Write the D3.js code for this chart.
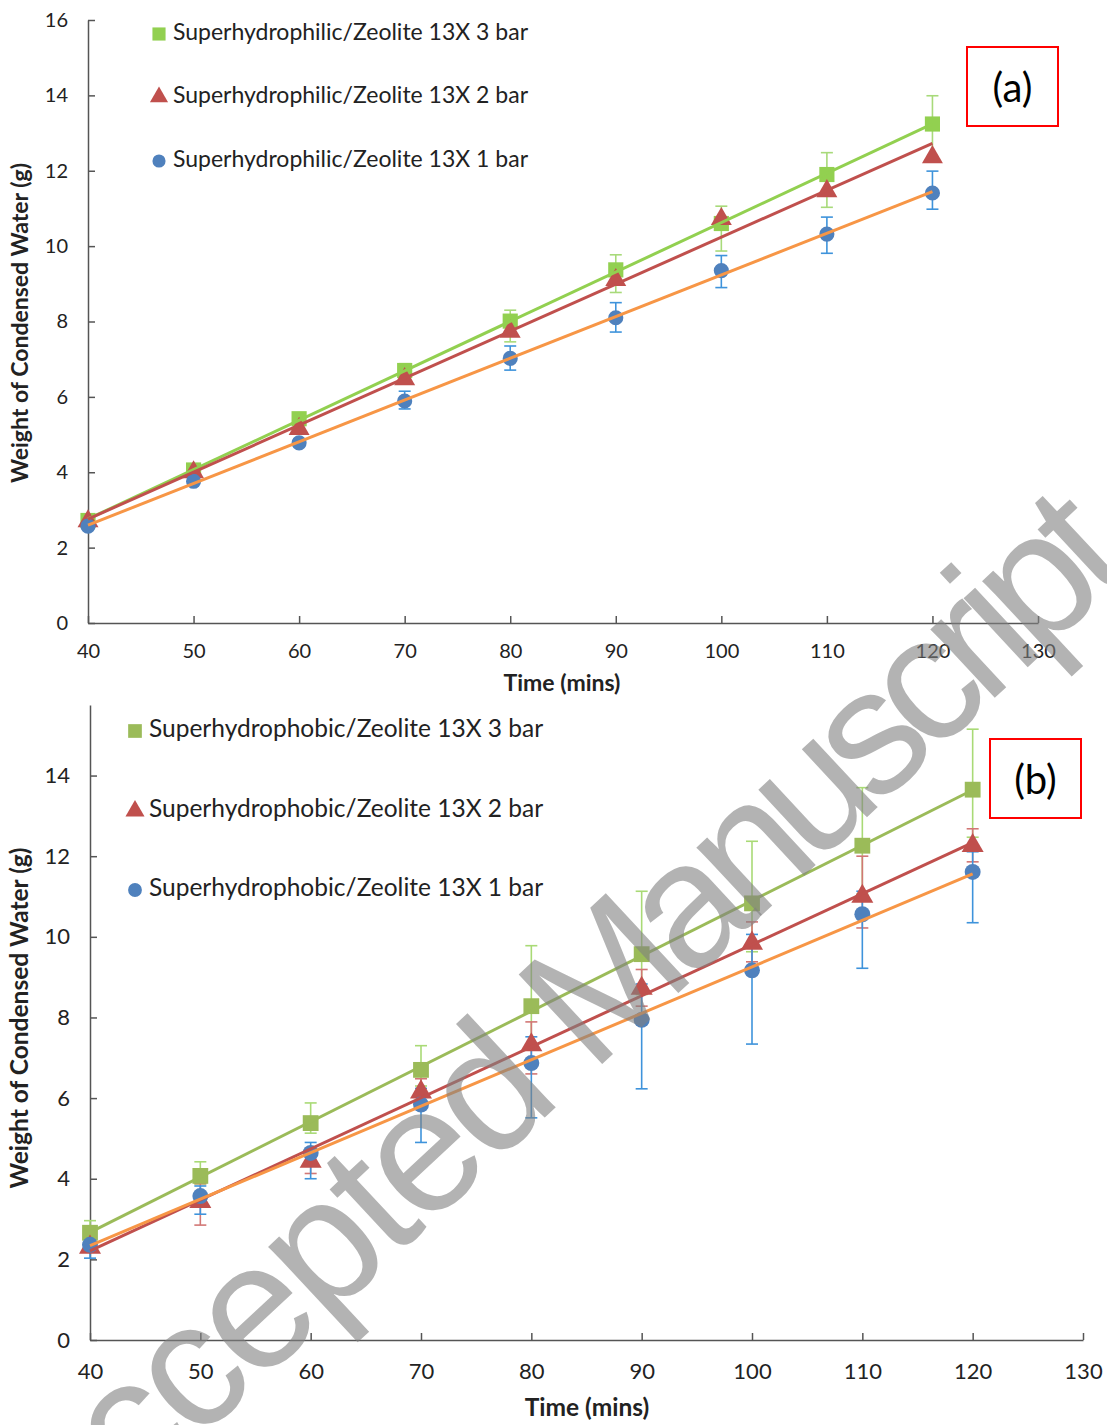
<!DOCTYPE html>
<html>
<head>
<meta charset="utf-8">
<script src="https://cdn.jsdelivr.net/npm/d3@7"></script>
<style>
  body { margin: 0; background: #fff; }
  text { font-family: "Lato", "Open Sans", sans-serif; fill: #222; }
  .axis path, .axis line { stroke: #555; stroke-width: 1.5; }
  .axis text { fill: #222; }
  .axisLabel { font-weight: bold; }
</style>
</head>
<body>
<div id="chart"></div>
<script>

// time points (mins)
const times = [40, 50, 60, 70, 80, 90, 100, 110, 120];
const xTicks = [40, 50, 60, 70, 80, 90, 100, 110, 120, 130];
const yTicksA = [0, 2, 4, 6, 8, 10, 12, 14, 16];
const yTicksB = [0, 2, 4, 6, 8, 10, 12, 14];

// (a) superhydrophilic
const labelsA = ["Superhydrophilic/Zeolite 13X 3 bar", "Superhydrophilic/Zeolite 13X 2 bar", "Superhydrophilic/Zeolite 13X 1 bar"];
const aWater3bar = [2.72, 4.06, 5.42, 6.70, 8.01, 9.37, 10.60, 11.90, 13.24];
const aWater2bar = [2.70, 4.00, 5.15, 6.47, 7.73, 9.10, 10.72, 11.46, 12.36];
const aWater1bar = [2.57, 3.76, 4.78, 5.89, 7.02, 8.10, 9.35, 10.32, 11.41];
const aErr3Up   = [0.05, 0.08, 0.12, 0.18, 0.29, 0.40, 0.46, 0.58, 0.75];
const aErr3Down = [0.05, 0.08, 0.12, 0.20, 0.55, 0.60, 0.73, 0.87, 0.90];
const aErr2Up   = [0, 0, 0, 0, 0, 0, 0, 0, 0];
const aErr2Down = [0, 0, 0, 0, 0, 0, 0, 0, 0];
const aErr1Up   = [0.05, 0.08, 0.10, 0.26, 0.33, 0.40, 0.40, 0.45, 0.58];
const aErr1Down = [0.05, 0.08, 0.10, 0.21, 0.31, 0.38, 0.45, 0.51, 0.43];

// (b) superhydrophobic
const labelsB = ["Superhydrophobic/Zeolite 13X 3 bar", "Superhydrophobic/Zeolite 13X 2 bar", "Superhydrophobic/Zeolite 13X 1 bar"];
const bWater3bar = [2.66, 4.07, 5.38, 6.70, 8.28, 9.57, 10.83, 12.26, 13.65];
const bWater2bar = [2.30, 3.43, 4.43, 6.15, 7.32, 8.72, 9.84, 11.00, 12.26];
const bWater1bar = [2.36, 3.57, 4.64, 5.84, 6.87, 7.94, 9.17, 10.56, 11.61];
const bErr3Up   = [0.30, 0.35, 0.50, 0.60, 1.50, 1.56, 1.54, 1.44, 1.50];
const bErr3Down = [0.10, 0.20, 0.25, 0.40, 1.00, 1.00, 1.20, 1.20, 1.18];
const bErr2Up   = [0.10, 0.45, 0.30, 0.33, 0.57, 0.47, 0.53, 1.00, 0.42];
const bErr2Down = [0.10, 0.58, 0.30, 0.30, 0.72, 0.44, 0.46, 0.78, 0.40];
const bErr1Up   = [0.10, 0.25, 0.26, 0.40, 0.65, 0.89, 0.89, 0.57, 0.50];
const bErr1Down = [0.33, 0.45, 0.64, 0.94, 1.36, 1.71, 1.83, 1.34, 1.26];

const width = 1107;
const height = 1425;

const svg = d3.select("#chart")
    .append("svg")
    .attr("width", width)
    .attr("height", height);

svg.append("rect").attr("width", width).attr("height", height).attr("fill", "#fff");

/*
PANEL SETUP
*/
const panels = [
    {
        tag: "(a)",
        labels: labelsA,
        yTicks: yTicksA,
        xScale: d3.scaleLinear().domain([40, 130]).range([88, 1038]),
        yScale: d3.scaleLinear().domain([0, 16]).range([623, 20]),
        tickFont: 20, legendFont: 23, titleFont: 23,
        legendX: 159, legendY: [34, 97, 161],
        box: {x: 967, y: 47, w: 91, h: 79},
        xTitle: {x: 562, y: 685}, yTitle: {x: 22, y: 323},
        series: [
            {vals: aWater3bar, up: aErr3Up, down: aErr3Down, shape: d3.symbolSquare, size: 230,
             fill: "#92D050", err: "#A8DA7A", trend: "#92D050"},
            {vals: aWater2bar, up: aErr2Up, down: aErr2Down, shape: d3.symbolTriangle, size: 190,
             fill: "#C0504D", err: "#D47C7A", trend: "#C0504D"},
            {vals: aWater1bar, up: aErr1Up, down: aErr1Down, shape: d3.symbolCircle, size: 180,
             fill: "#4F81BD", err: "#3E93DB", trend: "#F79646"}
        ]
    },
    {
        tag: "(b)",
        labels: labelsB,
        yTicks: yTicksB,
        xScale: d3.scaleLinear().domain([40, 130]).range([90, 1083]),
        yScale: d3.scaleLinear().domain([0, 15.75]).range([1340, 705]),
        tickFont: 22, legendFont: 24.5, titleFont: 24.5,
        legendX: 135, legendY: [731, 811, 890],
        box: {x: 990, y: 739, w: 91, h: 79},
        xTitle: {x: 587, y: 1410}, yTitle: {x: 22, y: 1018},
        series: [
            {vals: bWater3bar, up: bErr3Up, down: bErr3Down, shape: d3.symbolSquare, size: 250,
             fill: "#9BBB59", err: "#A9DA76", trend: "#9BBB59"},
            {vals: bWater2bar, up: bErr2Up, down: bErr2Down, shape: d3.symbolTriangle, size: 210,
             fill: "#C0504D", err: "#D27775", trend: "#C0504D"},
            {vals: bWater1bar, up: bErr1Up, down: bErr1Down, shape: d3.symbolCircle, size: 200,
             fill: "#4F81BD", err: "#3E93DB", trend: "#F79646"}
        ]
    }
];

// least squares trendline, like excel's linear trendline
function linFit(xs, ys) {
    const mx = d3.mean(xs), my = d3.mean(ys);
    const num = d3.sum(xs, (x, i) => (x - mx) * (ys[i] - my));
    const den = d3.sum(xs, x => (x - mx) * (x - mx));
    const slope = num / den;
    return x => my + slope * (x - mx);
}

panels.forEach(function(p) {
    const xScale = p.xScale, yScale = p.yScale;
    const g = svg.append("g");

    /*
    AXES
    */
    const xAxis = g.append("g")
        .attr("class", "axis")
        .attr("transform", `translate(0,${yScale(0)})`)
        .call(d3.axisBottom(xScale).tickValues(xTicks).tickSizeInner(-7).tickSizeOuter(0).tickPadding(p.tickFont + 1));
    xAxis.selectAll("text").style("font-size", p.tickFont + "px");

    const yAxis = g.append("g")
        .attr("class", "axis")
        .attr("transform", `translate(${xScale(40)},0)`)
        .call(d3.axisLeft(yScale).tickValues(p.yTicks).tickSizeInner(-7).tickSizeOuter(0).tickPadding(20));
    yAxis.selectAll("text").style("font-size", p.tickFont + "px");

    g.append("text")
        .attr("class", "axisLabel")
        .attr("x", p.xTitle.x)
        .attr("y", p.xTitle.y)
        .attr("text-anchor", "middle")
        .attr("dominant-baseline", "middle")
        .style("font-size", p.titleFont + "px")
        .text("Time (mins)");

    g.append("text")
        .attr("class", "axisLabel")
        .attr("transform", `translate(${p.yTitle.x},${p.yTitle.y}) rotate(-90)`)
        .attr("text-anchor", "middle")
        .attr("dominant-baseline", "middle")
        .style("font-size", p.titleFont + "px")
        .text("Weight of Condensed Water (g)");

    /*
    ERROR BARS
    */
    p.series.forEach(function(s) {
        const pts = times.map((t, i) => ({t: t, v: s.vals[i], up: s.up[i], down: s.down[i]}))
            .filter(d => d.up > 0 || d.down > 0);
        const eg = g.append("g").attr("stroke", s.err).attr("stroke-width", 1.6);
        eg.selectAll("line.bar").data(pts).enter().append("line")
            .attr("x1", d => xScale(d.t)).attr("x2", d => xScale(d.t))
            .attr("y1", d => yScale(d.v + d.up)).attr("y2", d => yScale(d.v - d.down));
        eg.selectAll("line.capTop").data(pts).enter().append("line")
            .attr("x1", d => xScale(d.t) - 6).attr("x2", d => xScale(d.t) + 6)
            .attr("y1", d => yScale(d.v + d.up)).attr("y2", d => yScale(d.v + d.up));
        eg.selectAll("line.capBot").data(pts).enter().append("line")
            .attr("x1", d => xScale(d.t) - 6).attr("x2", d => xScale(d.t) + 6)
            .attr("y1", d => yScale(d.v - d.down)).attr("y2", d => yScale(d.v - d.down));
    });

    /*
    MARKERS
    */
    p.series.forEach(function(s) {
        g.append("g").selectAll("path")
            .data(times.map((t, i) => ({t: t, v: s.vals[i]})))
            .enter()
            .append("path")
            .attr("d", d3.symbol().type(s.shape).size(s.size))
            .attr("transform", d => `translate(${xScale(d.t)},${yScale(d.v)})`)
            .attr("fill", s.fill);
    });

    /*
    TRENDLINES
    */
    p.series.forEach(function(s) {
        const f = linFit(times, s.vals);
        g.append("line")
            .attr("x1", xScale(40)).attr("y1", yScale(f(40)))
            .attr("x2", xScale(120)).attr("y2", yScale(f(120)))
            .attr("stroke", s.trend)
            .attr("stroke-width", 3);
    });

    /*
    LEGEND
    */
    p.series.forEach(function(s, i) {
        const ly = p.legendY[i];
        g.append("path")
            .attr("d", d3.symbol().type(s.shape).size(s.size * 0.75))
            .attr("transform", `translate(${p.legendX},${ly})`)
            .attr("fill", s.fill);
        g.append("text")
            .attr("x", p.legendX + 14)
            .attr("y", ly)
            .attr("dominant-baseline", "middle")
            .style("font-size", p.legendFont + "px")
            .text(p.labels[i]);
    });

    // panel tag box
    g.append("rect")
        .attr("x", p.box.x).attr("y", p.box.y)
        .attr("width", p.box.w).attr("height", p.box.h)
        .attr("fill", "none")
        .attr("stroke", "#FF0000")
        .attr("stroke-width", 2);
    g.append("text")
        .attr("x", p.box.x + p.box.w / 2)
        .attr("y", p.box.y + p.box.h / 2)
        .attr("text-anchor", "middle")
        .attr("dominant-baseline", "central")
        .style("font-size", "40px")
        .style("fill", "#000")
        .text(p.tag);
});

/*
WATERMARK
*/
const wm = svg.append("text")
    .attr("transform", "translate(52,1577) rotate(-43)")
    .style("font-family", "'Liberation Sans', Arial, sans-serif")
    .style("font-size", "178px")
    .style("fill", "#808080")
    .style("fill-opacity", 0.6);
wm.append("tspan").style("letter-spacing", "-6px").text("Accepted ");
wm.append("tspan").style("letter-spacing", "-14px").text("Manuscript");

</script>
</body>
</html>
